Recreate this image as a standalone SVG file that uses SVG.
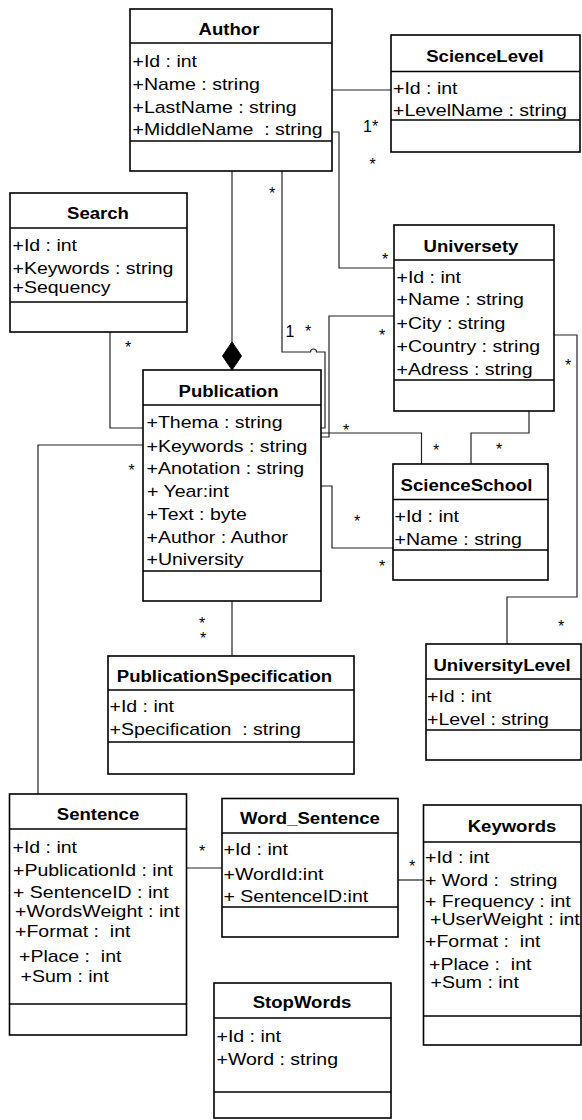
<svg xmlns="http://www.w3.org/2000/svg" width="582" height="1120" viewBox="0 0 582 1120">
<style>
text{font-family:"Liberation Sans",Arial,sans-serif;font-size:16px;fill:#000;white-space:pre}
.h{font-weight:bold;text-anchor:middle}
.m{text-anchor:middle}
.box{fill:#fff;stroke:#000;stroke-width:1.6}
.div{stroke:#000;stroke-width:1.6}
.c{fill:none;stroke:#222;stroke-width:1.2}
</style>
<rect width="582" height="1120" fill="#fff"/>
<g id="connectors">
<path class="c" d="M332,90 H391"/>
<path class="c" d="M332,132 H339 V268 H394"/>
<path class="c" d="M232,171 V342"/>
<polygon points="232,342 241.5,356 232,370 222.5,356" fill="#000" stroke="#000"/>
<path class="c" d="M282,171 V352 H310.5 A3,3 0 0 1 316.5,352 H325 V428 H321"/>
<path class="c" d="M394,316 H329 V437 H321"/>
<path class="c" d="M321,433 H421.5 V464"/>
<path class="c" d="M529,410 V433 H471 V464"/>
<path class="c" d="M553,335 H577 V597 H507 V644"/>
<path class="c" d="M321,486 H332 V548 H393"/>
<path class="c" d="M110,332 V428 H143"/>
<path class="c" d="M143,445 H38 V794"/>
<path class="c" d="M232,601 V656"/>
<path class="c" d="M187,868 H222"/>
<path class="c" d="M398,880 H424"/>
</g>
<g id="labels">
<text transform="translate(363 132)">1*</text>
<text class="m" x="372.5" y="170">*</text>
<text class="m" x="272" y="199">*</text>
<text class="m" x="385" y="265">*</text>
<text class="m" x="290" y="337">1</text>
<text class="m" x="308" y="337">*</text>
<text class="m" x="382" y="341">*</text>
<text class="m" x="568" y="371">*</text>
<text class="m" x="128" y="353">*</text>
<text class="m" x="131.5" y="476">*</text>
<text class="m" x="346" y="436">*</text>
<text class="m" x="436" y="456">*</text>
<text class="m" x="499" y="455">*</text>
<text class="m" x="357" y="527">*</text>
<text class="m" x="382" y="572">*</text>
<text class="m" x="202" y="629">*</text>
<text class="m" x="203" y="644">*</text>
<text class="m" x="561" y="632">*</text>
<text class="m" x="52" y="809">*</text>
<text class="m" x="202" y="857">*</text>
<text class="m" x="412" y="872">*</text>
</g>
<g id="Author">
<rect class="box" x="130" y="9" width="202" height="162"/>
<line class="div" x1="130" y1="43" x2="332" y2="43"/>
<line class="div" x1="130" y1="141" x2="332" y2="141"/>
<text class="h" transform="translate(229 35) scale(1.16 1)">Author</text>
<text transform="translate(132.5 66.5) scale(1.22 1)">+Id : int</text>
<text transform="translate(132.5 89.5) scale(1.22 1)">+Name : string</text>
<text transform="translate(132.5 113) scale(1.22 1)">+LastName : string</text>
<text transform="translate(132.5 135) scale(1.22 1)">+MiddleName  : string</text>
</g>
<g id="ScienceLevel">
<rect class="box" x="391" y="35" width="189" height="117"/>
<line class="div" x1="391" y1="71.5" x2="580" y2="71.5"/>
<line class="div" x1="391" y1="120" x2="580" y2="120"/>
<text class="h" transform="translate(485 62) scale(1.16 1)">ScienceLevel</text>
<text transform="translate(393 94) scale(1.22 1)">+Id : int</text>
<text transform="translate(393 115.5) scale(1.22 1)">+LevelName : string</text>
</g>
<g id="Search">
<rect class="box" x="10" y="193" width="177" height="139"/>
<line class="div" x1="10" y1="228" x2="187" y2="228"/>
<line class="div" x1="10" y1="302" x2="187" y2="302"/>
<text class="h" transform="translate(98 218.5) scale(1.16 1)">Search</text>
<text transform="translate(12.5 251) scale(1.22 1)">+Id : int</text>
<text transform="translate(12.5 274) scale(1.22 1)">+Keywords : string</text>
<text transform="translate(12.5 293) scale(1.22 1)">+Sequency</text>
</g>
<g id="Universety">
<rect class="box" x="394" y="225" width="160" height="186"/>
<line class="div" x1="394" y1="260" x2="554" y2="260"/>
<line class="div" x1="394" y1="380" x2="554" y2="380"/>
<text class="h" transform="translate(471 252) scale(1.16 1)">Universety</text>
<text transform="translate(396.5 283) scale(1.22 1)">+Id : int</text>
<text transform="translate(396.5 305) scale(1.22 1)">+Name : string</text>
<text transform="translate(396.5 328.5) scale(1.22 1)">+City : string</text>
<text transform="translate(396.5 351.5) scale(1.22 1)">+Country : string</text>
<text transform="translate(396.5 375) scale(1.22 1)">+Adress : string</text>
</g>
<g id="Publication">
<rect class="box" x="143" y="370" width="178" height="231"/>
<line class="div" x1="143" y1="405" x2="321" y2="405"/>
<line class="div" x1="143" y1="571" x2="321" y2="571"/>
<text class="h" transform="translate(228.5 397) scale(1.16 1)">Publication</text>
<text transform="translate(146.5 428) scale(1.22 1)">+Thema : string</text>
<text transform="translate(146.5 451.5) scale(1.22 1)">+Keywords : string</text>
<text transform="translate(146.5 474) scale(1.22 1)">+Anotation : string</text>
<text transform="translate(147 497) scale(1.22 1)">+ Year:int</text>
<text transform="translate(146.5 520) scale(1.22 1)">+Text : byte</text>
<text transform="translate(146.5 543) scale(1.22 1)">+Author : Author</text>
<text transform="translate(146.5 565) scale(1.22 1)">+University</text>
</g>
<g id="ScienceSchool">
<rect class="box" x="393" y="464" width="155" height="116"/>
<line class="div" x1="393" y1="499.5" x2="548" y2="499.5"/>
<line class="div" x1="393" y1="550" x2="548" y2="550"/>
<text class="h" transform="translate(466.5 491) scale(1.16 1)">ScienceSchool</text>
<text transform="translate(394.5 522) scale(1.22 1)">+Id : int</text>
<text transform="translate(394.5 545) scale(1.22 1)">+Name : string</text>
</g>
<g id="PublicationSpecification">
<rect class="box" x="108" y="656" width="246" height="118"/>
<line class="div" x1="108" y1="690" x2="354" y2="690"/>
<line class="div" x1="108" y1="742" x2="354" y2="742"/>
<text class="h" transform="translate(224.5 682) scale(1.16 1)">PublicationSpecification</text>
<text transform="translate(109.5 712) scale(1.22 1)">+Id : int</text>
<text transform="translate(109.5 734.5) scale(1.22 1)">+Specification  : string</text>
</g>
<g id="UniversityLevel">
<rect class="box" x="426" y="644" width="155" height="116"/>
<line class="div" x1="426" y1="679" x2="581" y2="679"/>
<line class="div" x1="426" y1="730" x2="581" y2="730"/>
<text class="h" transform="translate(502 671) scale(1.16 1)">UniversityLevel</text>
<text transform="translate(427 702) scale(1.22 1)">+Id : int</text>
<text transform="translate(427 724.5) scale(1.22 1)">+Level : string</text>
</g>
<g id="Sentence">
<rect class="box" x="9.5" y="794" width="177" height="241"/>
<line class="div" x1="9.5" y1="829" x2="186.5" y2="829"/>
<line class="div" x1="9.5" y1="1004" x2="186.5" y2="1004"/>
<text class="h" transform="translate(98 819.5) scale(1.16 1)">Sentence</text>
<text transform="translate(12.5 853) scale(1.22 1)">+Id : int</text>
<text transform="translate(13 875.5) scale(1.22 1)">+PublicationId : int</text>
<text transform="translate(13 898) scale(1.22 1)">+ SentenceID : int</text>
<text transform="translate(15 917) scale(1.22 1)">+WordsWeight : int</text>
<text transform="translate(15 937) scale(1.22 1)">+Format :  int</text>
<text transform="translate(19 962) scale(1.22 1)">+Place :  int</text>
<text transform="translate(20.5 982) scale(1.22 1)">+Sum : int</text>
</g>
<g id="Word_Sentence">
<rect class="box" x="222" y="798.5" width="176" height="138.5"/>
<line class="div" x1="222" y1="833" x2="398" y2="833"/>
<line class="div" x1="222" y1="907" x2="398" y2="907"/>
<text class="h" transform="translate(310 823.5) scale(1.16 1)">Word_Sentence</text>
<text transform="translate(223.5 855) scale(1.22 1)">+Id : int</text>
<text transform="translate(223.5 880) scale(1.22 1)">+WordId:int</text>
<text transform="translate(223.5 902) scale(1.22 1)">+ SentenceID:int</text>
</g>
<g id="Keywords">
<rect class="box" x="423.5" y="805" width="157.5" height="240"/>
<line class="div" x1="423.5" y1="842" x2="581" y2="842"/>
<line class="div" x1="423.5" y1="1016" x2="581" y2="1016"/>
<text class="h" transform="translate(512 832) scale(1.16 1)">Keywords</text>
<text transform="translate(425 863) scale(1.22 1)">+Id : int</text>
<text transform="translate(425 886) scale(1.22 1)">+ Word :  string</text>
<text transform="translate(425 907) scale(1.22 1)">+ Frequency : int</text>
<text transform="translate(430 925) scale(1.22 1)">+UserWeight : int</text>
<text transform="translate(425 947) scale(1.22 1)">+Format :  int</text>
<text transform="translate(429 970) scale(1.22 1)">+Place :  int</text>
<text transform="translate(430.5 988) scale(1.22 1)">+Sum : int</text>
</g>
<g id="StopWords">
<rect class="box" x="214" y="983" width="177" height="135"/>
<line class="div" x1="214" y1="1018" x2="391" y2="1018"/>
<line class="div" x1="214" y1="1092" x2="391" y2="1092"/>
<text class="h" transform="translate(302 1008) scale(1.16 1)">StopWords</text>
<text transform="translate(216.5 1042) scale(1.22 1)">+Id : int</text>
<text transform="translate(216.5 1065) scale(1.22 1)">+Word : string</text>
</g>
</svg>
